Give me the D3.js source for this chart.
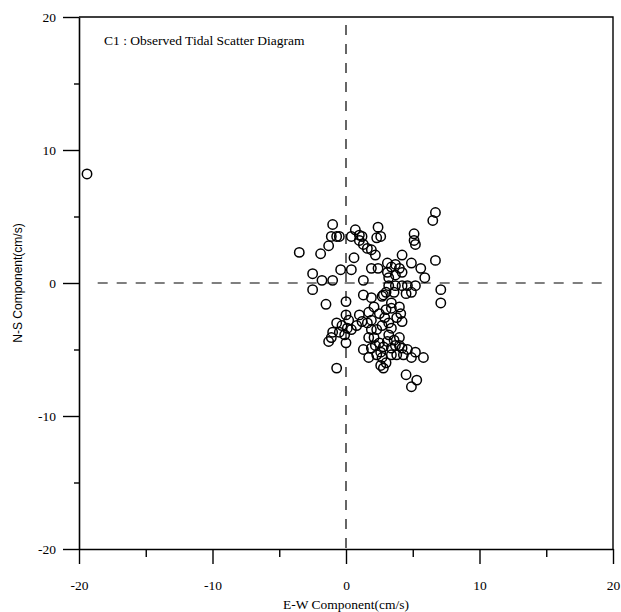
<!DOCTYPE html>
<html>
<head>
<meta charset="utf-8">
<script src="https://cdn.jsdelivr.net/npm/d3@7"></script>
<style>
  html, body { margin: 0; padding: 0; background: #fff; }
  svg { display: block; }
</style>
</head>
<body>
<script>
// Observed tidal current components (cm/s) at station C1
const ewComponent = [
  -19.4, -3.5, -1.9, -1.0, -1.1, -0.7, -0.5, -1.3, -0.4, -2.5, -1.8, -1.0, -2.5, -1.5, 0.0,
  0.7, 0.4, 1.0, 1.2, 1.3, 1.6, 1.9, 2.2, 0.6, 0.4, 1.3, 2.4, 2.3, 2.6, 1.9, 2.4, 3.1, 3.4,
  3.7, 4.0, 3.1, 3.7, 4.2, 4.2, 4.9, 3.2, 3.7, 4.2, 4.6, 1.3, 2.8, 4.9,
  6.7, 6.5, 5.1, 5.1, 5.2, 6.7, 5.6, 5.9, 5.2, 7.1, 7.1, 5.2, 5.8, 4.9, 5.3, 4.9,
  1.9, 2.7, 3.0, 4.5, 3.4, 2.1, 1.7, 2.5, 3.0, 3.4, 4.0, 4.1, 3.8, 4.2, 1.2, 0.8, 0.4,
  1.6, 1.9, 1.9, 1.7, 3.2, 3.4, 3.2, 3.1, 3.6, 4.0, 2.8, 2.6, 3.4, 3.7, 4.0, 4.2,
  1.3, 1.9, 2.2, 2.5, 1.7, 2.3, 2.7, 3.0, 2.6, 2.8, 3.4, 3.8, 4.3, 4.6, 4.5,
  0.0, 0.2, -0.7, -0.3, -1.0, -0.5, -1.1, -0.1, -1.3, 0.0, -0.7, 0.1,
  1.0, 2.3, 2.7, 2.9, 2.1, 3.6, 3.2, 1.0
];
const nsComponent = [
  8.2, 2.3, 2.2, 4.4, 3.5, 3.5, 3.5, 2.8, 1.0, 0.7, 0.2, 0.2, -0.5, -1.6, -1.4,
  4.0, 3.5, 3.6, 3.5, 2.9, 2.6, 2.5, 2.1, 1.9, 1.0, 0.2, 4.2, 3.4, 3.5, 1.1, 1.1, 1.5, 1.2,
  1.4, 1.1, 0.8, 0.6, 0.8, 2.1, 1.5, -0.2, -0.2, -0.2, -0.2, -0.9, -0.9, -0.7,
  5.3, 4.7, 3.7, 3.2, 2.9, 1.7, 1.1, 0.4, -0.2, -0.5, -1.5, -5.2, -5.6, -5.6, -7.3, -7.8,
  -1.1, -1.0, -0.7, -0.8, -1.5, -1.8, -2.2, -2.3, -2.0, -1.9, -1.8, -2.3, -2.6, -2.9, -2.9, -3.2, -3.5,
  -3.0, -2.8, -3.5, -4.1, -3.0, -3.4, -3.9, -4.4, -4.3, -4.1, -4.8, -5.2, -4.9, -4.7, -4.7, -4.9,
  -5.0, -4.9, -4.7, -4.5, -5.6, -5.4, -5.6, -6.0, -6.2, -6.4, -5.4, -5.4, -5.4, -5.0, -6.9,
  -2.4, -2.8, -3.0, -3.2, -3.7, -3.7, -4.1, -3.9, -4.4, -4.5, -6.4, -3.4,
  -2.4, -3.5, -3.2, -2.6, -4.1, -0.7, 0.4, 3.2
];

const majorTicks = [-20, -10, 0, 10, 20];
const minorTicks = [-15, -5, 5, 15];

const chartTitle = "C1 : Observed Tidal Scatter Diagram";
const xTitle = "E-W Component(cm/s)";
const yTitle = "N-S Component(cm/s)";

const width = 621, height = 612;
const plot = { left: 79, right: 613, top: 17, bottom: 549 };

const svg = d3.select("body").append("svg")
  .attr("width", width)
  .attr("height", height);

const x = d3.scaleLinear().domain([-20, 20]).range([plot.left, plot.right]);
const y = d3.scaleLinear().domain([-20, 20]).range([plot.bottom, plot.top]);

const serif = "'Liberation Serif', 'Times New Roman', serif";
const sans = "'Liberation Sans', Arial, sans-serif";
// Plain hyphen-minus for negative tick labels
const tickLabel = d => String(d);

// Zero reference lines
svg.append("line")
  .attr("x1", x(-18.6)).attr("x2", x(19.7))
  .attr("y1", y(0)).attr("y2", y(0))
  .attr("stroke", "#000").attr("stroke-width", 1.2)
  .attr("stroke-dasharray", "10,9");
svg.append("line")
  .attr("x1", x(0)).attr("x2", x(0))
  .attr("y1", y(19.4)).attr("y2", y(-20))
  .attr("stroke", "#000").attr("stroke-width", 1.2)
  .attr("stroke-dasharray", "10,9");

// Frame: top and right edges
svg.append("path")
  .attr("d", `M${x(-20)},${y(20)}H${x(20)}V${y(-20)}`)
  .attr("fill", "none").attr("stroke", "#000").attr("stroke-width", 1.4);

function styleAxis(g) {
  g.select(".domain").attr("stroke", "#000").attr("stroke-width", 1.6);
  g.selectAll(".tick line").attr("stroke", "#000").attr("stroke-width", 1.4);
  g.selectAll(".tick text").attr("fill", "#000")
    .style("font-family", serif).style("font-size", "13.5px");
}

// Bottom axis
svg.append("g")
  .attr("transform", `translate(0,${plot.bottom})`)
  .call(d3.axisBottom(x).tickValues(majorTicks).tickSize(15).tickSizeOuter(0).tickPadding(16)
    .tickFormat(tickLabel))
  .call(styleAxis);
svg.append("g")
  .attr("transform", `translate(0,${plot.bottom})`)
  .call(d3.axisBottom(x).tickValues(minorTicks).tickSize(8).tickSizeOuter(0).tickFormat(""))
  .call(g => g.select(".domain").remove())
  .call(styleAxis);

// Left axis
svg.append("g")
  .attr("transform", `translate(${plot.left},0)`)
  .call(d3.axisLeft(y).tickValues(majorTicks).tickSize(16).tickSizeOuter(0).tickPadding(7)
    .tickFormat(tickLabel))
  .call(styleAxis);
svg.append("g")
  .attr("transform", `translate(${plot.left},0)`)
  .call(d3.axisLeft(y).tickValues(minorTicks).tickSize(5).tickSizeOuter(0).tickFormat(""))
  .call(g => g.select(".domain").remove())
  .call(styleAxis);

// Observations
svg.append("g")
  .selectAll("circle")
  .data(d3.zip(ewComponent, nsComponent))
  .join("circle")
  .attr("cx", d => x(d[0]))
  .attr("cy", d => y(d[1]))
  .attr("r", 4.7)
  .attr("fill", "none")
  .attr("stroke", "#000")
  .attr("stroke-width", 1.5);

// Titles
svg.append("text")
  .attr("x", 104).attr("y", 45)
  .style("font-family", serif).style("font-size", "13.5px")
  .text(chartTitle);

svg.append("text")
  .attr("x", x(0)).attr("y", 609)
  .attr("text-anchor", "middle")
  .style("font-family", serif).style("font-size", "13.5px")
  .text(xTitle);

svg.append("text")
  .attr("transform", `translate(22,${y(0)}) rotate(-90)`)
  .attr("text-anchor", "middle")
  .style("font-family", sans).style("font-size", "12px")
  .text(yTitle);
</script>
</body>
</html>
